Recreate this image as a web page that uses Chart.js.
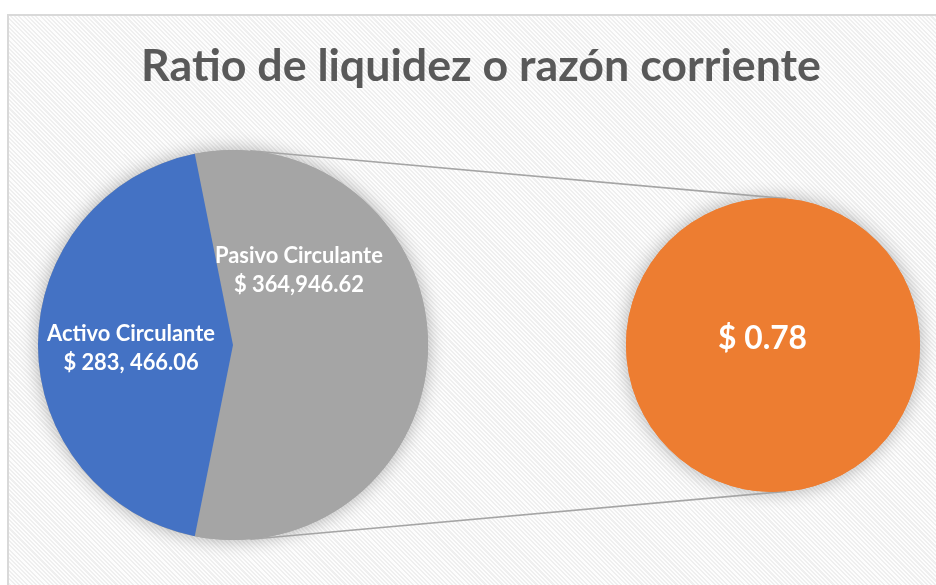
<!DOCTYPE html>
<html lang="es">
<head>
<meta charset="utf-8">
<title>Ratio de liquidez o razón corriente</title>
<script src="https://cdn.jsdelivr.net/npm/chart.js@4.4.1/dist/chart.umd.min.js"></script>
<style>
    html, body { margin: 0; padding: 0; background: #ffffff; }
    #lienzo { position: relative; width: 936px; height: 585px; overflow: hidden; }
    #marco {
        position: absolute; left: 7px; top: 14px; width: 960px; height: 600px;
        border-left: 2px solid #d9d9d9; border-top: 2px solid #d9d9d9;
        background: repeating-linear-gradient(45deg, #fdfdfd 0px, #fdfdfd 1.5px, #efefef 1.5px, #efefef 3px);
    }
    canvas { position: absolute; left: 0; top: 0; }
</style>
</head>
<body>
<div id="lienzo">
    <div id="marco"></div>
    <canvas id="pastelPrincipal" width="936" height="585"></canvas>
    <canvas id="pastelRazon" width="936" height="585"></canvas>
</div>
<script>
// Datos del gráfico
const titulo = 'Ratio de liquidez o razón corriente';
const categorias = ['Pasivo Circulante', 'Activo Circulante'];
const valores = [364946.62, 283466.06];
const etiquetasValor = ['$ 364,946.62', '$ 283, 466.06'];
const categoriaRazon = ['Razón corriente'];
const valorRazon = [0.78];
const etiquetaRazon = ['$ 0.78'];

// Estilos
const FUENTE = 'Lato, "Open Sans", sans-serif';
const colores = ['#a5a5a5', '#4472c4'];
const colorRazon = '#ed7d31';
const colorConector = '#a5a5a5';

// Posición de cada etiqueta, como fracción del radio respecto al centro
const posEtiquetas = [[0.338, -0.385], [-0.523, 0.015]];
const posEtiquetaRazon = [-0.071, -0.061];

/**
 * Tamaño de fuente para que el texto ocupe el ancho indicado
 */
function ajustarFuente(ctx, texto, ancho) {
    ctx.font = `bold 100px ${FUENTE}`;
    return 100 * ancho / ctx.measureText(texto).width;
}

/**
 * Sombra suave alrededor de un pastel
 */
function dibujarSombra(chart, color) {
    const arco = chart.getDatasetMeta(0).data[0];
    const ctx = chart.ctx;
    ctx.save();
    ctx.shadowColor = 'rgba(0, 0, 0, 0.3)';
    ctx.shadowBlur = 18;
    ctx.fillStyle = color;
    ctx.beginPath();
    ctx.arc(arco.x, arco.y, arco.outerRadius, 0, Math.PI * 2);
    ctx.fill();
    ctx.restore();
}

// Rotación para que el pasivo quede centrado a la derecha
const total = valores.reduce((a, b) => a + b, 0);
const rotacion = 90 - (valores[0] / total) * 180;

const pluginPrincipal = {
    id: 'principal',
    beforeDraw(chart) {
        const ctx = chart.ctx;
        ctx.save();
        const tam = ajustarFuente(ctx, titulo, 680);
        ctx.font = `bold ${tam}px ${FUENTE}`;
        ctx.fillStyle = '#595959';
        ctx.textAlign = 'center';
        ctx.textBaseline = 'alphabetic';
        ctx.fillText(titulo, 481, 81);
        ctx.restore();
    },
    beforeDatasetsDraw(chart) {
        dibujarSombra(chart, colores[0]);
    },
    afterDatasetsDraw(chart) {
        const ctx = chart.ctx;
        const arcos = chart.getDatasetMeta(0).data;
        ctx.save();
        const tam = ajustarFuente(ctx, categorias[0], 168);
        ctx.font = `bold ${tam}px ${FUENTE}`;
        ctx.fillStyle = '#ffffff';
        ctx.textAlign = 'center';
        ctx.textBaseline = 'alphabetic';
        arcos.forEach((arco, i) => {
            const cx = arco.x + posEtiquetas[i][0] * arco.outerRadius;
            const cy = arco.y + posEtiquetas[i][1] * arco.outerRadius;
            ctx.fillText(categorias[i], cx, cy - 7);
            ctx.fillText(etiquetasValor[i], cx, cy + 22);
        });
        ctx.restore();
    }
};

const graficoPrincipal = new Chart(document.getElementById('pastelPrincipal'), {
    type: 'pie',
    data: {
        labels: categorias,
        datasets: [{
            data: valores,
            backgroundColor: colores,
            borderWidth: 0,
            hoverOffset: 0
        }]
    },
    options: {
        responsive: false,
        animation: false,
        events: [],
        rotation: rotacion,
        layout: { padding: { left: 38, right: 508, top: 150, bottom: 45 } },
        plugins: {
            legend: { display: false },
            tooltip: { enabled: false },
            title: { display: false }
        }
    },
    plugins: [pluginPrincipal]
});

const pluginRazon = {
    id: 'razon',
    beforeDatasetsDraw(chart) {
        dibujarSombra(chart, colorRazon);

        // Líneas conectoras: tangentes exteriores a ambos círculos
        const a1 = graficoPrincipal.getDatasetMeta(0).data[0];
        const a2 = chart.getDatasetMeta(0).data[0];
        const dx = a2.x - a1.x, dy = a2.y - a1.y;
        const d = Math.hypot(dx, dy);
        const ux = dx / d, uy = dy / d;
        const a = (a1.outerRadius - a2.outerRadius) / d;
        const b = Math.sqrt(1 - a * a);
        const ctx = chart.ctx;
        ctx.save();
        ctx.strokeStyle = colorConector;
        ctx.lineWidth = 1.6;
        [-1, 1].forEach(signo => {
            const nx = a * ux - signo * b * uy;
            const ny = a * uy + signo * b * ux;
            ctx.beginPath();
            ctx.moveTo(a1.x + nx * a1.outerRadius, a1.y + ny * a1.outerRadius);
            ctx.lineTo(a2.x + nx * a2.outerRadius, a2.y + ny * a2.outerRadius);
            ctx.stroke();
        });
        ctx.restore();
    },
    afterDatasetsDraw(chart) {
        const ctx = chart.ctx;
        const arco = chart.getDatasetMeta(0).data[0];
        ctx.save();
        const tam = ajustarFuente(ctx, etiquetaRazon[0], 89);
        ctx.font = `bold ${tam}px ${FUENTE}`;
        ctx.fillStyle = '#ffffff';
        ctx.textAlign = 'center';
        ctx.textBaseline = 'alphabetic';
        const cx = arco.x + posEtiquetaRazon[0] * arco.outerRadius;
        const cy = arco.y + posEtiquetaRazon[1] * arco.outerRadius;
        ctx.fillText(etiquetaRazon[0], cx, cy + 13);
        ctx.restore();
    }
};

new Chart(document.getElementById('pastelRazon'), {
    type: 'pie',
    data: {
        labels: categoriaRazon,
        datasets: [{
            data: valorRazon,
            backgroundColor: [colorRazon],
            borderWidth: 0,
            hoverOffset: 0
        }]
    },
    options: {
        responsive: false,
        animation: false,
        events: [],
        layout: { padding: { left: 626, right: 16, top: 198, bottom: 93 } },
        plugins: {
            legend: { display: false },
            tooltip: { enabled: false },
            title: { display: false }
        }
    },
    plugins: [pluginRazon]
});
</script>
</body>
</html>
